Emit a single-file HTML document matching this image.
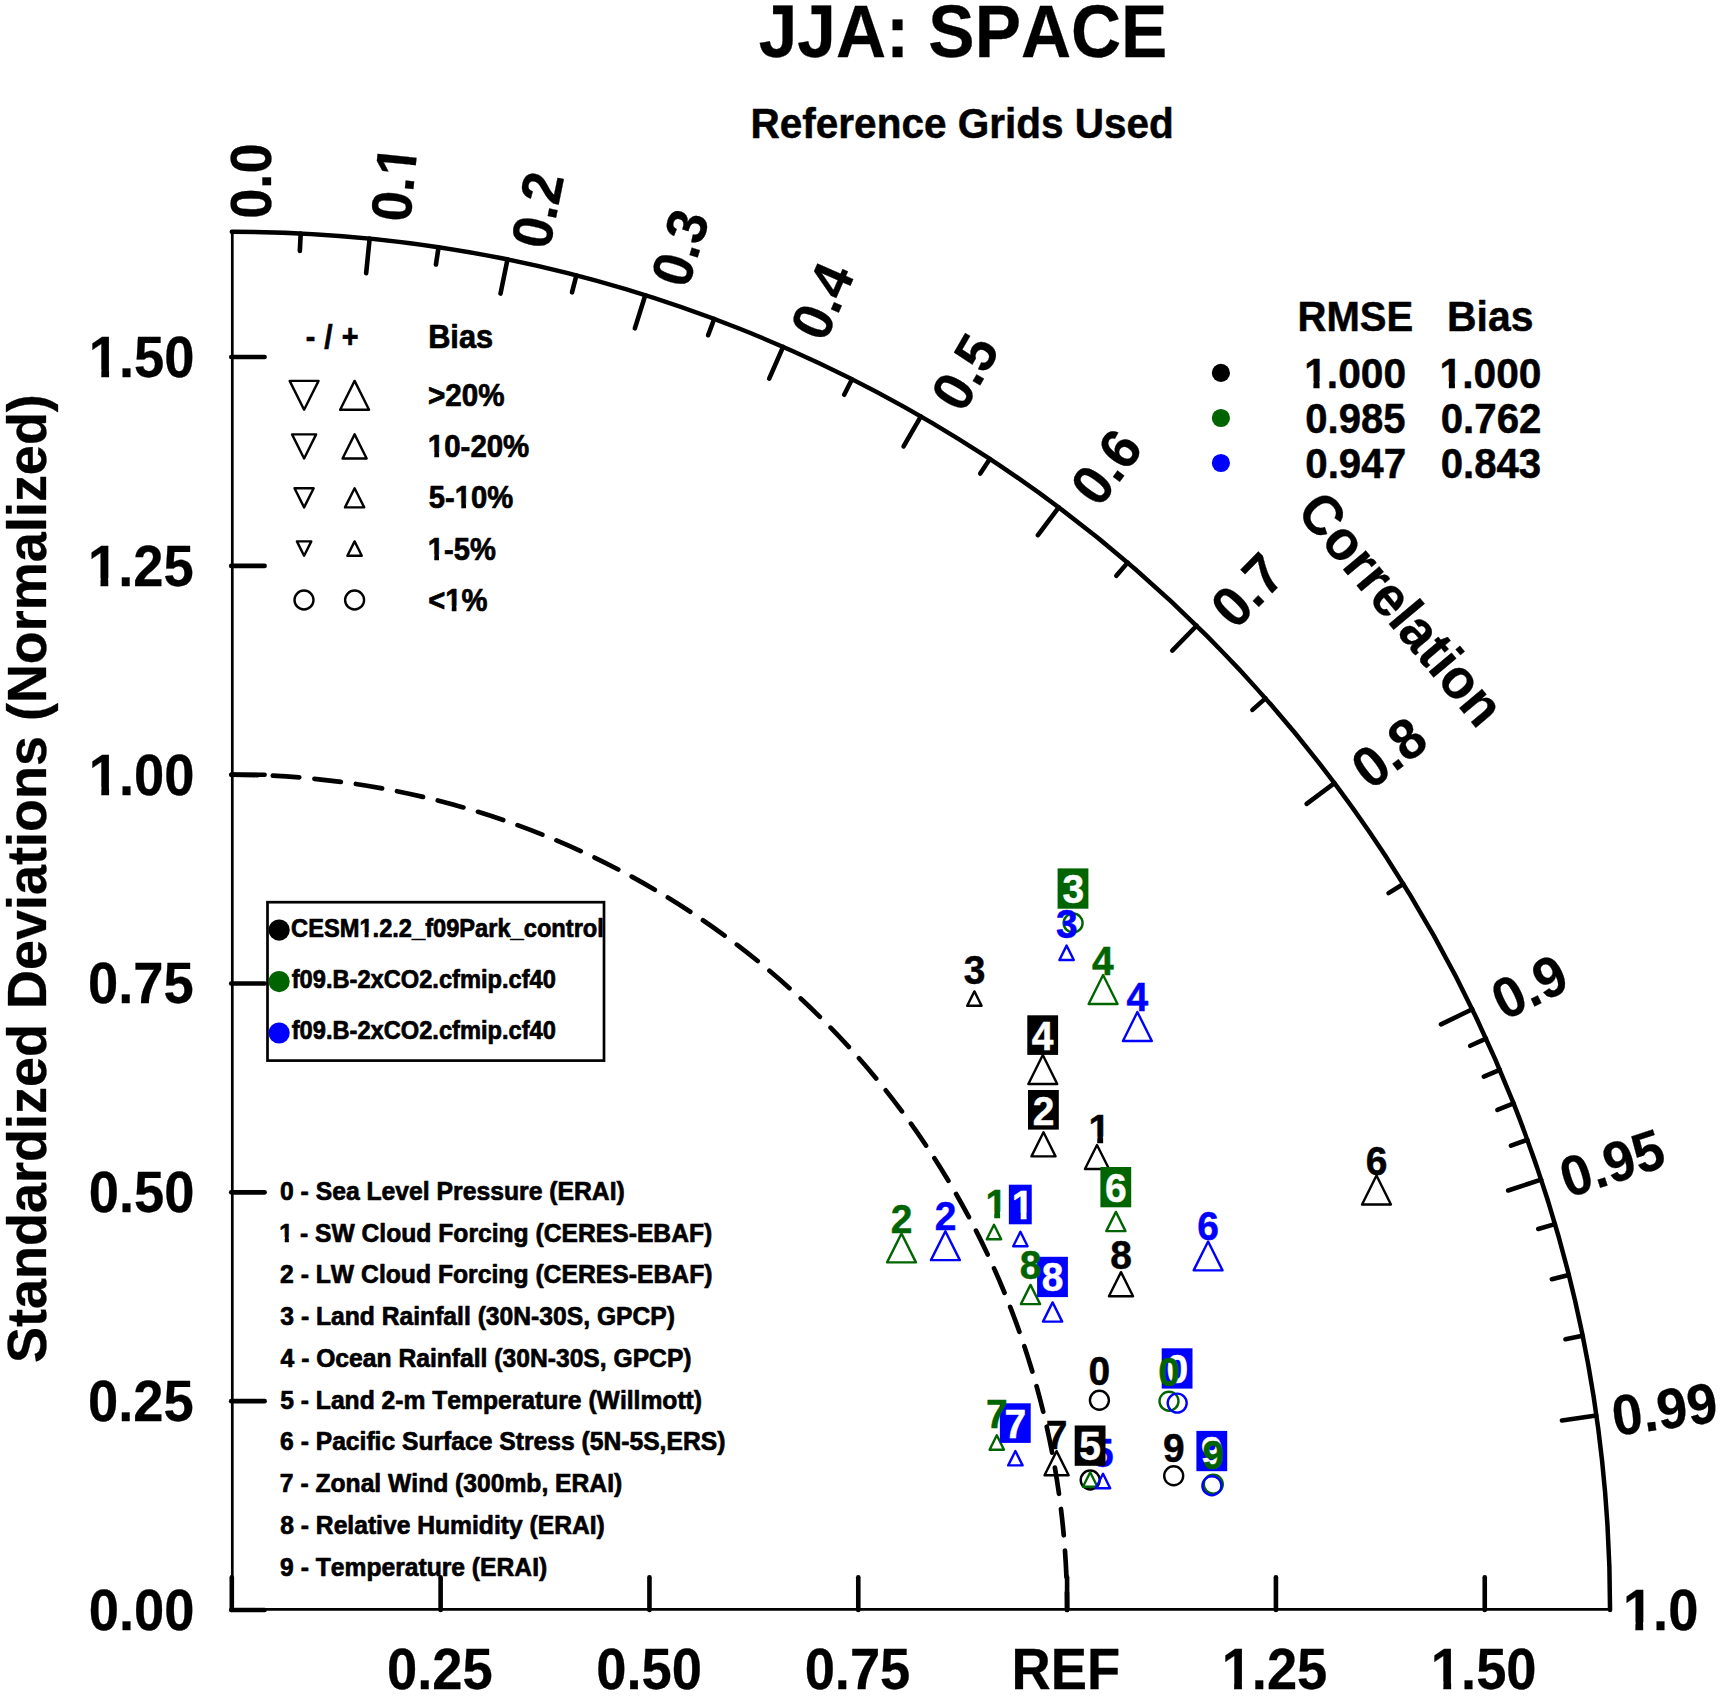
<!DOCTYPE html>
<html lang="en">
<head>
<meta charset="utf-8">
<title>JJA: SPACE - Taylor diagram</title>
<style>
html,body{margin:0;padding:0;background:#fff;}
body{width:1722px;height:1696px;overflow:hidden;}
svg{display:block;}
svg text{font-family:"Liberation Sans",Helvetica,Arial,sans-serif;font-weight:700;font-kerning:none;stroke-linejoin:round;}
</style>
</head>
<body>
<svg width="1722" height="1696" viewBox="0 0 1722 1696">
<defs>
<clipPath id="k1"><rect x="-20" y="-68.16" width="150.55" height="60.62"/><rect x="-20" y="-7.54" width="18.86" height="35.94"/><rect x="13.11" y="-7.54" width="8.09" height="35.94"/><rect x="32.66" y="-7.54" width="97.89" height="35.94"/><rect x="-20" y="2.75" width="150.55" height="25.65"/></clipPath>
<clipPath id="k2"><rect x="-20" y="-68.16" width="118.96" height="60.62"/><rect x="-20" y="-7.54" width="66.23" height="35.94"/><rect x="60.48" y="-7.54" width="8.09" height="35.94"/><rect x="80.03" y="-7.54" width="18.93" height="35.94"/><rect x="-20" y="2.75" width="118.96" height="25.65"/></clipPath>
<clipPath id="k3"><rect x="-20" y="-68.16" width="118.96" height="60.62"/><rect x="-20" y="-7.54" width="18.86" height="35.94"/><rect x="13.11" y="-7.54" width="8.09" height="35.94"/><rect x="32.66" y="-7.54" width="66.3" height="35.94"/><rect x="-20" y="2.75" width="118.96" height="25.65"/></clipPath>
<clipPath id="k4"><rect x="-20" y="-36.72" width="145.47" height="31.65"/><rect x="-20" y="-5.07" width="19.39" height="20.37"/><rect x="6.79" y="-5.07" width="4.9" height="20.37"/><rect x="17.59" y="-5.07" width="107.88" height="20.37"/><rect x="-20" y="2.95" width="145.47" height="12.35"/></clipPath>
<clipPath id="k5"><rect x="-20" y="-36.72" width="128.45" height="31.65"/><rect x="-20" y="-5.07" width="46.6" height="20.37"/><rect x="34" y="-5.07" width="4.9" height="20.37"/><rect x="44.8" y="-5.07" width="63.65" height="20.37"/><rect x="-20" y="2.95" width="128.45" height="12.35"/></clipPath>
<clipPath id="k6"><rect x="-20" y="-36.72" width="111.43" height="31.65"/><rect x="-20" y="-5.07" width="19.39" height="20.37"/><rect x="6.79" y="-5.07" width="4.9" height="20.37"/><rect x="17.59" y="-5.07" width="73.84" height="20.37"/><rect x="-20" y="2.95" width="111.43" height="12.35"/></clipPath>
<clipPath id="k7"><rect x="-20" y="-36.72" width="102.1" height="31.65"/><rect x="-20" y="-5.07" width="37.26" height="20.37"/><rect x="24.66" y="-5.07" width="4.9" height="20.37"/><rect x="35.46" y="-5.07" width="46.63" height="20.37"/><rect x="-20" y="2.95" width="102.1" height="12.35"/></clipPath>
<clipPath id="k8"><rect x="-20" y="-51.6" width="147.6" height="45.36"/><rect x="-20" y="-6.24" width="19.14" height="27.74"/><rect x="9.79" y="-6.24" width="6.4" height="27.74"/><rect x="24.72" y="-6.24" width="102.88" height="27.74"/><rect x="-20" y="2.85" width="147.6" height="18.65"/></clipPath>
<clipPath id="k9"><rect x="-20" y="-30" width="370.7" height="25.5"/><rect x="-20" y="-4.5" width="91.73" height="17"/><rect x="77.71" y="-4.5" width="4.13" height="17"/><rect x="86.6" y="-4.5" width="264.1" height="17"/><rect x="-20" y="2.95" width="370.7" height="9.55"/></clipPath>
<clipPath id="k10"><rect x="-20" y="-31.2" width="496.42" height="26.6"/><rect x="-20" y="-4.6" width="19.48" height="17.6"/><rect x="5.72" y="-4.6" width="4.27" height="17.6"/><rect x="14.95" y="-4.6" width="461.47" height="17.6"/><rect x="-20" y="2.95" width="496.42" height="10.05"/></clipPath>
<clipPath id="k11"><rect x="-20" y="-49.2" width="62.8" height="43.17"/><rect x="-20" y="-6.03" width="19.18" height="26.53"/><rect x="9.32" y="-6.03" width="6.13" height="26.53"/><rect x="23.57" y="-6.03" width="19.23" height="26.53"/><rect x="-20" y="2.85" width="62.8" height="17.65"/></clipPath>
</defs>
<rect x="0" y="0" width="1722" height="1696" fill="#ffffff"/>
<text transform="translate(758.71 57.1) scale(0.9252 1)" font-size="75" stroke="#000000" stroke-width="0.3">JJA: SPACE</text>
<text transform="translate(750.52 137.6) scale(0.9426 1)" font-size="43" stroke="#000000" stroke-width="0.5">Reference Grids Used</text>
<line x1="232.3" y1="231.76" x2="232.3" y2="1610" stroke="#000000" stroke-width="2.7" stroke-linecap="butt"/>
<line x1="231.8" y1="1609.4" x2="1610.04" y2="1609.4" stroke="#000000" stroke-width="2.7" stroke-linecap="butt"/>
<path d="M 231.8 231.76 A 1378.24 1378.24 0 0 1 1610.04 1610" fill="none" stroke="#000" stroke-width="4.5" stroke-linecap="round"/>
<path d="M 231.8 774.7 A 835.3 835.3 0 0 1 1067.1 1610" fill="none" stroke="#000" stroke-width="4.7" stroke-linecap="round" stroke-dasharray="26.5 15.27" stroke-dashoffset="0.7"/>
<line x1="231.2" y1="1610" x2="264.61" y2="1610" stroke="#000000" stroke-width="4.6" stroke-linecap="round"/>
<text transform="translate(88.81 1629.9) scale(0.9560 1)" font-size="56.8" stroke="#000000" stroke-width="0.3">0.00</text>
<line x1="231.2" y1="1401.17" x2="264.61" y2="1401.17" stroke="#000000" stroke-width="4.6" stroke-linecap="round"/>
<text transform="translate(87.99 1421.08) scale(0.9560 1)" font-size="56.8" stroke="#000000" stroke-width="0.3">0.25</text>
<line x1="231.2" y1="1192.35" x2="264.61" y2="1192.35" stroke="#000000" stroke-width="4.6" stroke-linecap="round"/>
<text transform="translate(88.81 1212.25) scale(0.9560 1)" font-size="56.8" stroke="#000000" stroke-width="0.3">0.50</text>
<line x1="231.2" y1="983.53" x2="264.61" y2="983.53" stroke="#000000" stroke-width="4.6" stroke-linecap="round"/>
<text transform="translate(87.99 1003.43) scale(0.9560 1)" font-size="56.8" stroke="#000000" stroke-width="0.3">0.75</text>
<line x1="231.2" y1="774.7" x2="264.61" y2="774.7" stroke="#000000" stroke-width="4.6" stroke-linecap="round"/>
<text transform="translate(88.81 794.6) scale(0.9560 1)" font-size="56.8" stroke="#000000" stroke-width="0.3" clip-path="url(#k1)">1.00</text>
<line x1="231.2" y1="565.88" x2="264.61" y2="565.88" stroke="#000000" stroke-width="4.6" stroke-linecap="round"/>
<text transform="translate(87.99 585.77) scale(0.9560 1)" font-size="56.8" stroke="#000000" stroke-width="0.3" clip-path="url(#k1)">1.25</text>
<line x1="231.2" y1="357.05" x2="264.61" y2="357.05" stroke="#000000" stroke-width="4.6" stroke-linecap="round"/>
<text transform="translate(88.81 376.95) scale(0.9560 1)" font-size="56.8" stroke="#000000" stroke-width="0.3" clip-path="url(#k1)">1.50</text>
<line x1="231.8" y1="1610" x2="231.8" y2="1577.19" stroke="#000000" stroke-width="4.6" stroke-linecap="round"/>
<line x1="440.62" y1="1610" x2="440.62" y2="1577.19" stroke="#000000" stroke-width="4.6" stroke-linecap="round"/>
<text transform="translate(387.01 1689) scale(0.9560 1)" font-size="56.8" stroke="#000000" stroke-width="0.3">0.25</text>
<line x1="649.45" y1="1610" x2="649.45" y2="1577.19" stroke="#000000" stroke-width="4.6" stroke-linecap="round"/>
<text transform="translate(596.24 1689) scale(0.9560 1)" font-size="56.8" stroke="#000000" stroke-width="0.3">0.50</text>
<line x1="858.27" y1="1610" x2="858.27" y2="1577.19" stroke="#000000" stroke-width="4.6" stroke-linecap="round"/>
<text transform="translate(804.66 1689) scale(0.9560 1)" font-size="56.8" stroke="#000000" stroke-width="0.3">0.75</text>
<line x1="1067.1" y1="1610" x2="1067.1" y2="1577.19" stroke="#000000" stroke-width="4.6" stroke-linecap="round"/>
<text transform="translate(1011.58 1689) scale(0.9560 1)" font-size="56.8" stroke="#000000" stroke-width="0.3">REF</text>
<line x1="1275.92" y1="1610" x2="1275.92" y2="1577.19" stroke="#000000" stroke-width="4.6" stroke-linecap="round"/>
<text transform="translate(1221.63 1689) scale(0.9560 1)" font-size="56.8" stroke="#000000" stroke-width="0.3" clip-path="url(#k1)">1.25</text>
<line x1="1484.75" y1="1610" x2="1484.75" y2="1577.19" stroke="#000000" stroke-width="4.6" stroke-linecap="round"/>
<text transform="translate(1430.86 1689) scale(0.9560 1)" font-size="56.8" stroke="#000000" stroke-width="0.3" clip-path="url(#k1)">1.50</text>
<text transform="translate(31.6 879.05) rotate(-90) translate(-484.02 14.42) scale(0.9641 1)" font-size="56" stroke="#000000" stroke-width="0.3">Standardized Deviations (Normalized)</text>
<line x1="369.62" y1="238.66" x2="366.15" y2="273.19" stroke="#000000" stroke-width="4.6" stroke-linecap="round"/>
<line x1="507.45" y1="259.6" x2="500.51" y2="293.6" stroke="#000000" stroke-width="4.6" stroke-linecap="round"/>
<line x1="645.27" y1="295.24" x2="634.86" y2="328.34" stroke="#000000" stroke-width="4.6" stroke-linecap="round"/>
<line x1="783.1" y1="346.82" x2="769.22" y2="378.62" stroke="#000000" stroke-width="4.6" stroke-linecap="round"/>
<line x1="920.92" y1="416.4" x2="903.57" y2="446.46" stroke="#000000" stroke-width="4.6" stroke-linecap="round"/>
<line x1="1058.75" y1="507.4" x2="1037.93" y2="535.16" stroke="#000000" stroke-width="4.6" stroke-linecap="round"/>
<line x1="1196.57" y1="625.74" x2="1172.28" y2="650.52" stroke="#000000" stroke-width="4.6" stroke-linecap="round"/>
<line x1="1334.4" y1="783.05" x2="1306.64" y2="803.87" stroke="#000000" stroke-width="4.6" stroke-linecap="round"/>
<line x1="1472.22" y1="1009.24" x2="1440.99" y2="1024.36" stroke="#000000" stroke-width="4.6" stroke-linecap="round"/>
<line x1="1541.13" y1="1179.64" x2="1508.17" y2="1190.48" stroke="#000000" stroke-width="4.6" stroke-linecap="round"/>
<line x1="1596.26" y1="1415.57" x2="1561.91" y2="1420.47" stroke="#000000" stroke-width="4.6" stroke-linecap="round"/>
<line x1="300.71" y1="233.48" x2="299.84" y2="250.86" stroke="#000000" stroke-width="4.6" stroke-linecap="round"/>
<line x1="438.54" y1="247.35" x2="435.93" y2="264.55" stroke="#000000" stroke-width="4.6" stroke-linecap="round"/>
<line x1="576.36" y1="275.52" x2="572.01" y2="292.37" stroke="#000000" stroke-width="4.6" stroke-linecap="round"/>
<line x1="714.19" y1="318.93" x2="708.1" y2="335.23" stroke="#000000" stroke-width="4.6" stroke-linecap="round"/>
<line x1="852.01" y1="379.19" x2="844.18" y2="394.73" stroke="#000000" stroke-width="4.6" stroke-linecap="round"/>
<line x1="989.83" y1="458.94" x2="980.26" y2="473.47" stroke="#000000" stroke-width="4.6" stroke-linecap="round"/>
<line x1="1127.66" y1="562.62" x2="1116.35" y2="575.85" stroke="#000000" stroke-width="4.6" stroke-linecap="round"/>
<line x1="1265.48" y1="698.38" x2="1252.43" y2="709.89" stroke="#000000" stroke-width="4.6" stroke-linecap="round"/>
<line x1="1403.31" y1="883.96" x2="1388.52" y2="893.13" stroke="#000000" stroke-width="4.6" stroke-linecap="round"/>
<line x1="1486" y1="1038.57" x2="1470.17" y2="1045.78" stroke="#000000" stroke-width="4.6" stroke-linecap="round"/>
<line x1="1499.79" y1="1069.84" x2="1483.78" y2="1076.66" stroke="#000000" stroke-width="4.6" stroke-linecap="round"/>
<line x1="1513.57" y1="1103.41" x2="1497.39" y2="1109.81" stroke="#000000" stroke-width="4.6" stroke-linecap="round"/>
<line x1="1527.35" y1="1139.78" x2="1510.99" y2="1145.71" stroke="#000000" stroke-width="4.6" stroke-linecap="round"/>
<line x1="1554.92" y1="1224.09" x2="1538.21" y2="1228.96" stroke="#000000" stroke-width="4.6" stroke-linecap="round"/>
<line x1="1568.7" y1="1274.94" x2="1551.82" y2="1279.17" stroke="#000000" stroke-width="4.6" stroke-linecap="round"/>
<line x1="1582.48" y1="1335.73" x2="1565.43" y2="1339.2" stroke="#000000" stroke-width="4.6" stroke-linecap="round"/>
<text transform="translate(251.5 181.1) rotate(-90) translate(-37.74 19.6) scale(0.9560 1)" font-size="56.8" stroke="#000000" stroke-width="0.3">0.0</text>
<text transform="translate(393.8 187.3) rotate(-84.26) translate(-33.8 19.6) scale(0.9560 1)" font-size="56.8" stroke="#000000" stroke-width="0.3" clip-path="url(#k2)">0.1</text>
<text transform="translate(537.5 209.9) rotate(-78.46) translate(-37.74 19.6) scale(0.9560 1)" font-size="56.8" stroke="#000000" stroke-width="0.3">0.2</text>
<text transform="translate(680.1 247.7) rotate(-72.54) translate(-37.87 19.6) scale(0.9560 1)" font-size="56.8" stroke="#000000" stroke-width="0.3">0.3</text>
<text transform="translate(822.6 300.3) rotate(-66.42) translate(-38.69 19.6) scale(0.9560 1)" font-size="56.8" stroke="#000000" stroke-width="0.3">0.4</text>
<text transform="translate(965.1 371.9) rotate(-60) translate(-38.01 19.6) scale(0.9560 1)" font-size="56.8" stroke="#000000" stroke-width="0.3">0.5</text>
<text transform="translate(1106.4 466.9) rotate(-53.13) translate(-37.87 19.6) scale(0.9560 1)" font-size="56.8" stroke="#000000" stroke-width="0.3">0.6</text>
<text transform="translate(1247.5 590.5) rotate(-45.57) translate(-37.6 19.6) scale(0.9560 1)" font-size="56.8" stroke="#000000" stroke-width="0.3">0.7</text>
<text transform="translate(1389.1 752.5) rotate(-36.87) translate(-38.01 19.6) scale(0.9560 1)" font-size="56.8" stroke="#000000" stroke-width="0.3">0.8</text>
<text transform="translate(1529.6 986.9) rotate(-25.84) translate(-37.87 19.6) scale(0.9560 1)" font-size="56.8" stroke="#000000" stroke-width="0.3">0.9</text>
<text transform="translate(1612.4 1163.1) rotate(-18.19) translate(-53.21 19.6) scale(0.9560 1)" font-size="56.8" stroke="#000000" stroke-width="0.3">0.95</text>
<text transform="translate(1664.7 1409.2) rotate(-8.11) translate(-52.94 19.6) scale(0.9560 1)" font-size="56.8" stroke="#000000" stroke-width="0.3">0.99</text>
<text transform="translate(1661.3 1610.2) rotate(0) translate(-38.42 19.6) scale(0.9560 1)" font-size="56.8" stroke="#000000" stroke-width="0.3" clip-path="url(#k3)">1.0</text>
<text transform="translate(1401.6 608) rotate(50) translate(-141.73 20.02) scale(0.9524 1)" font-size="56" stroke="#000000" stroke-width="0.3">Correlation</text>
<text transform="translate(305.7 348.3) scale(0.8675 1)" font-size="33" stroke="#000000" stroke-width="0.7">-</text>
<text transform="translate(324.15 348.3) scale(0.9091 1)" font-size="33" stroke="#000000" stroke-width="0.7">/</text>
<text transform="translate(341.8 348.3) scale(0.8701 1)" font-size="33" stroke="#000000" stroke-width="0.7">+</text>
<text transform="translate(428.15 348.2) scale(0.9325 1)" font-size="33" stroke="#000000" stroke-width="0.7">Bias</text>
<path d="M 304.1 409.8 L 318.55 380.9 L 289.65 380.9 Z" fill="none" stroke="#000000" stroke-width="2.4" stroke-linejoin="round"/>
<path d="M 354.6 380.9 L 369.05 409.8 L 340.15 409.8 Z" fill="none" stroke="#000000" stroke-width="2.4" stroke-linejoin="round"/>
<text transform="translate(427.97 406.05) scale(0.9674 1)" font-size="30.6" stroke="#000000" stroke-width="0.7">&gt;20%</text>
<path d="M 304.1 458.45 L 316.15 434.35 L 292.05 434.35 Z" fill="none" stroke="#000000" stroke-width="2.4" stroke-linejoin="round"/>
<path d="M 354.6 434.35 L 366.65 458.45 L 342.55 458.45 Z" fill="none" stroke="#000000" stroke-width="2.4" stroke-linejoin="round"/>
<text transform="translate(427.84 457.25) scale(0.9624 1)" font-size="30.6" stroke="#000000" stroke-width="0.7" clip-path="url(#k4)">10-20%</text>
<path d="M 304.1 507.4 L 313.7 488.2 L 294.5 488.2 Z" fill="none" stroke="#000000" stroke-width="2.4" stroke-linejoin="round"/>
<path d="M 354.6 488.2 L 364.2 507.4 L 345 507.4 Z" fill="none" stroke="#000000" stroke-width="2.4" stroke-linejoin="round"/>
<text transform="translate(428.87 508.45) scale(0.9556 1)" font-size="30.6" stroke="#000000" stroke-width="0.7" clip-path="url(#k5)">5-10%</text>
<path d="M 304.1 555.8 L 311.3 541.4 L 296.9 541.4 Z" fill="none" stroke="#000000" stroke-width="2.4" stroke-linejoin="round"/>
<path d="M 354.6 541.4 L 361.8 555.8 L 347.4 555.8 Z" fill="none" stroke="#000000" stroke-width="2.4" stroke-linejoin="round"/>
<text transform="translate(427.85 559.6) scale(0.9535 1)" font-size="30.6" stroke="#000000" stroke-width="0.7" clip-path="url(#k6)">1-5%</text>
<circle cx="304" cy="600" r="9.5" fill="none" stroke="#000000" stroke-width="2.4"/>
<circle cx="354.6" cy="600" r="9.5" fill="none" stroke="#000000" stroke-width="2.4"/>
<text transform="translate(428.18 610.8) scale(0.9563 1)" font-size="30.6" stroke="#000000" stroke-width="0.7" clip-path="url(#k7)">&lt;1%</text>
<text transform="translate(1297.55 331.1) scale(0.9319 1)" font-size="43" stroke="#000000" stroke-width="0.5">RMSE</text>
<text transform="translate(1447.09 331.1) scale(0.9511 1)" font-size="43" stroke="#000000" stroke-width="0.5">Bias</text>
<circle cx="1220.9" cy="372.9" r="9.1" fill="#000000"/>
<text transform="translate(1304.2 387.6) scale(0.9467 1)" font-size="43" stroke="#000000" stroke-width="0.5" clip-path="url(#k8)">1.000</text>
<text transform="translate(1439.6 387.6) scale(0.9467 1)" font-size="43" stroke="#000000" stroke-width="0.5" clip-path="url(#k8)">1.000</text>
<circle cx="1220.9" cy="418" r="9.1" fill="#006400"/>
<text transform="translate(1305.25 432.6) scale(0.9312 1)" font-size="43" stroke="#000000" stroke-width="0.5">0.985</text>
<text transform="translate(1440.64 432.6) scale(0.9370 1)" font-size="43" stroke="#000000" stroke-width="0.5">0.762</text>
<circle cx="1220.9" cy="463" r="9.1" fill="#0000ff"/>
<text transform="translate(1305.24 477.7) scale(0.9370 1)" font-size="43" stroke="#000000" stroke-width="0.5">0.947</text>
<text transform="translate(1440.64 477.7) scale(0.9350 1)" font-size="43" stroke="#000000" stroke-width="0.5">0.843</text>
<rect x="267.5" y="902.2" width="336.5" height="158.4" fill="#fff" stroke="#000" stroke-width="2.7"/>
<circle cx="279.15" cy="930.1" r="10.6" fill="#000000"/>
<text transform="translate(291.1 936.9) scale(0.9461 1)" font-size="25" stroke="#000000" stroke-width="0.7" clip-path="url(#k9)">CESM1.2.2_f09Park_control</text>
<circle cx="279.15" cy="981.6" r="10.6" fill="#006400"/>
<text transform="translate(291.7 988) scale(0.9465 1)" font-size="25" stroke="#000000" stroke-width="0.7">f09.B-2xCO2.cfmip.cf40</text>
<circle cx="279.15" cy="1033" r="10.6" fill="#0000ff"/>
<text transform="translate(291.7 1039.2) scale(0.9465 1)" font-size="25" stroke="#000000" stroke-width="0.7">f09.B-2xCO2.cfmip.cf40</text>
<text transform="translate(279.96 1199.9) scale(0.9510 1)" font-size="26" stroke="#000000" stroke-width="0.7">0 - Sea Level Pressure (ERAI)</text>
<text transform="translate(279.35 1241.64) scale(0.9492 1)" font-size="26" stroke="#000000" stroke-width="0.7" clip-path="url(#k10)">1 - SW Cloud Forcing (CERES-EBAF)</text>
<text transform="translate(280.08 1283.38) scale(0.9506 1)" font-size="26" stroke="#000000" stroke-width="0.7">2 - LW Cloud Forcing (CERES-EBAF)</text>
<text transform="translate(280.33 1325.12) scale(0.9493 1)" font-size="26" stroke="#000000" stroke-width="0.7">3 - Land Rainfall (30N-30S, GPCP)</text>
<text transform="translate(280.58 1366.86) scale(0.9485 1)" font-size="26" stroke="#000000" stroke-width="0.7">4 - Ocean Rainfall (30N-30S, GPCP)</text>
<text transform="translate(280.21 1408.6) scale(0.9485 1)" font-size="26" stroke="#000000" stroke-width="0.7">5 - Land 2-m Temperature (Willmott)</text>
<text transform="translate(280.09 1450.34) scale(0.9485 1)" font-size="26" stroke="#000000" stroke-width="0.7">6 - Pacific Surface Stress (5N-5S,ERS)</text>
<text transform="translate(279.84 1492.08) scale(0.9485 1)" font-size="26" stroke="#000000" stroke-width="0.7">7 - Zonal Wind (300mb, ERAI)</text>
<text transform="translate(280.21 1533.82) scale(0.9485 1)" font-size="26" stroke="#000000" stroke-width="0.7">8 - Relative Humidity (ERAI)</text>
<text transform="translate(280.09 1575.56) scale(0.9485 1)" font-size="26" stroke="#000000" stroke-width="0.7">9 - Temperature (ERAI)</text>
<circle cx="1099.4" cy="1400.3" r="9.5" fill="none" stroke="#000000" stroke-width="2.4"/>
<path d="M 1097 1144.95 L 1109.05 1169.05 L 1084.95 1169.05 Z" fill="none" stroke="#000000" stroke-width="2.4" stroke-linejoin="round"/>
<path d="M 1043.5 1132.25 L 1055.55 1156.35 L 1031.45 1156.35 Z" fill="none" stroke="#000000" stroke-width="2.4" stroke-linejoin="round"/>
<path d="M 974.4 991.4 L 981.6 1005.8 L 967.2 1005.8 Z" fill="none" stroke="#000000" stroke-width="2.4" stroke-linejoin="round"/>
<path d="M 1042.8 1055.05 L 1057.25 1083.95 L 1028.35 1083.95 Z" fill="none" stroke="#000000" stroke-width="2.4" stroke-linejoin="round"/>
<circle cx="1090.2" cy="1480" r="9.5" fill="none" stroke="#000000" stroke-width="2.4"/>
<path d="M 1376.5 1175.55 L 1390.95 1204.45 L 1362.05 1204.45 Z" fill="none" stroke="#000000" stroke-width="2.4" stroke-linejoin="round"/>
<path d="M 1056.6 1451.15 L 1068.65 1475.25 L 1044.55 1475.25 Z" fill="none" stroke="#000000" stroke-width="2.4" stroke-linejoin="round"/>
<path d="M 1121 1272.15 L 1133.05 1296.25 L 1108.95 1296.25 Z" fill="none" stroke="#000000" stroke-width="2.4" stroke-linejoin="round"/>
<circle cx="1173.7" cy="1475.8" r="9.5" fill="none" stroke="#000000" stroke-width="2.4"/>
<circle cx="1169" cy="1401.2" r="9.5" fill="none" stroke="#006400" stroke-width="2.4"/>
<path d="M 994 1224.8 L 1001.2 1239.2 L 986.8 1239.2 Z" fill="none" stroke="#006400" stroke-width="2.4" stroke-linejoin="round"/>
<path d="M 901.5 1233.45 L 915.95 1262.35 L 887.05 1262.35 Z" fill="none" stroke="#006400" stroke-width="2.4" stroke-linejoin="round"/>
<circle cx="1073.1" cy="923" r="9.5" fill="none" stroke="#006400" stroke-width="2.4"/>
<path d="M 1103.1 975.05 L 1117.55 1003.95 L 1088.65 1003.95 Z" fill="none" stroke="#006400" stroke-width="2.4" stroke-linejoin="round"/>
<path d="M 1090.2 1472.3 L 1097.4 1486.7 L 1083 1486.7 Z" fill="none" stroke="#006400" stroke-width="2.4" stroke-linejoin="round"/>
<path d="M 1115.9 1211.9 L 1125.5 1231.1 L 1106.3 1231.1 Z" fill="none" stroke="#006400" stroke-width="2.4" stroke-linejoin="round"/>
<path d="M 996.8 1435.3 L 1004 1449.7 L 989.6 1449.7 Z" fill="none" stroke="#006400" stroke-width="2.4" stroke-linejoin="round"/>
<path d="M 1030.5 1284.9 L 1040.1 1304.1 L 1020.9 1304.1 Z" fill="none" stroke="#006400" stroke-width="2.4" stroke-linejoin="round"/>
<circle cx="1213.3" cy="1484.2" r="9.5" fill="none" stroke="#006400" stroke-width="2.4"/>
<circle cx="1177.2" cy="1403.1" r="9.5" fill="none" stroke="#0000ff" stroke-width="2.4"/>
<path d="M 1020.4 1231.8 L 1027.6 1246.2 L 1013.2 1246.2 Z" fill="none" stroke="#0000ff" stroke-width="2.4" stroke-linejoin="round"/>
<path d="M 945.4 1231.25 L 959.85 1260.15 L 930.95 1260.15 Z" fill="none" stroke="#0000ff" stroke-width="2.4" stroke-linejoin="round"/>
<path d="M 1066.6 945.6 L 1073.8 960 L 1059.4 960 Z" fill="none" stroke="#0000ff" stroke-width="2.4" stroke-linejoin="round"/>
<path d="M 1137.4 1012.05 L 1151.85 1040.95 L 1122.95 1040.95 Z" fill="none" stroke="#0000ff" stroke-width="2.4" stroke-linejoin="round"/>
<path d="M 1103 1473.8 L 1110.2 1488.2 L 1095.8 1488.2 Z" fill="none" stroke="#0000ff" stroke-width="2.4" stroke-linejoin="round"/>
<path d="M 1208.1 1241.45 L 1222.55 1270.35 L 1193.65 1270.35 Z" fill="none" stroke="#0000ff" stroke-width="2.4" stroke-linejoin="round"/>
<path d="M 1015.4 1451 L 1022.6 1465.4 L 1008.2 1465.4 Z" fill="none" stroke="#0000ff" stroke-width="2.4" stroke-linejoin="round"/>
<path d="M 1052.6 1302.4 L 1062.2 1321.6 L 1043 1321.6 Z" fill="none" stroke="#0000ff" stroke-width="2.4" stroke-linejoin="round"/>
<circle cx="1211.9" cy="1485.7" r="9.5" fill="none" stroke="#0000ff" stroke-width="2.4"/>
<rect x="1161.7" y="1348.3" width="30.8" height="40.3" fill="#0000ff"/>
<text transform="translate(1166.39 1382.85) scale(0.9500 1)" font-size="41" fill="#ffffff" stroke="#ffffff" stroke-width="0.5">0</text>
<rect x="1008.85" y="1184.7" width="22.9" height="39.6" fill="#0000ff"/>
<text transform="translate(1011.85 1219.25) scale(0.9500 1)" font-size="41" fill="#ffffff" stroke="#ffffff" stroke-width="0.5" clip-path="url(#k11)">1</text>
<text transform="translate(934.69 1230.25) scale(0.9500 1)" font-size="41" fill="#0000ff" stroke="#0000ff" stroke-width="0.5">2</text>
<text transform="translate(1055.99 938.25) scale(0.9500 1)" font-size="41" fill="#0000ff" stroke="#0000ff" stroke-width="0.5">3</text>
<text transform="translate(1126.4 1011.05) scale(0.9500 1)" font-size="41" fill="#0000ff" stroke="#0000ff" stroke-width="0.5">4</text>
<text transform="translate(1092.09 1466.55) scale(0.9500 1)" font-size="41" fill="#0000ff" stroke="#0000ff" stroke-width="0.5">5</text>
<text transform="translate(1197.29 1240.15) scale(0.9500 1)" font-size="41" fill="#0000ff" stroke="#0000ff" stroke-width="0.5">6</text>
<rect x="999.9" y="1403.3" width="30.8" height="39.6" fill="#0000ff"/>
<text transform="translate(1004.59 1437.85) scale(0.9500 1)" font-size="41" fill="#ffffff" stroke="#ffffff" stroke-width="0.5">7</text>
<rect x="1037.1" y="1256.8" width="30.8" height="40.3" fill="#0000ff"/>
<text transform="translate(1041.79 1291.35) scale(0.9500 1)" font-size="41" fill="#ffffff" stroke="#ffffff" stroke-width="0.5">8</text>
<rect x="1196.4" y="1430.9" width="30.8" height="40.3" fill="#0000ff"/>
<text transform="translate(1201.09 1465.45) scale(0.9500 1)" font-size="41" fill="#ffffff" stroke="#ffffff" stroke-width="0.5">9</text>
<text transform="translate(1158.19 1385.85) scale(0.9500 1)" font-size="41" fill="#006400" stroke="#006400" stroke-width="0.5">0</text>
<text transform="translate(985.45 1217.85) scale(0.9500 1)" font-size="41" fill="#006400" stroke="#006400" stroke-width="0.5" clip-path="url(#k11)">1</text>
<text transform="translate(890.79 1233.35) scale(0.9500 1)" font-size="41" fill="#006400" stroke="#006400" stroke-width="0.5">2</text>
<rect x="1057.6" y="868.4" width="30.8" height="40.3" fill="#006400"/>
<text transform="translate(1062.49 902.95) scale(0.9500 1)" font-size="41" fill="#ffffff" stroke="#ffffff" stroke-width="0.5">3</text>
<text transform="translate(1092.1 975.25) scale(0.9500 1)" font-size="41" fill="#006400" stroke="#006400" stroke-width="0.5">4</text>
<text transform="translate(1079.29 1465.05) scale(0.9500 1)" font-size="41" fill="#006400" stroke="#006400" stroke-width="0.5">5</text>
<rect x="1100.4" y="1167" width="30.8" height="40.3" fill="#006400"/>
<text transform="translate(1105.09 1201.55) scale(0.9500 1)" font-size="41" fill="#ffffff" stroke="#ffffff" stroke-width="0.5">6</text>
<text transform="translate(985.99 1428.05) scale(0.9500 1)" font-size="41" fill="#006400" stroke="#006400" stroke-width="0.5">7</text>
<text transform="translate(1019.69 1279.45) scale(0.9500 1)" font-size="41" fill="#006400" stroke="#006400" stroke-width="0.5">8</text>
<text transform="translate(1202.49 1469.35) scale(0.9500 1)" font-size="41" fill="#006400" stroke="#006400" stroke-width="0.5">9</text>
<text transform="translate(1088.59 1384.65) scale(0.9500 1)" font-size="41" stroke="#000000" stroke-width="0.5">0</text>
<text transform="translate(1088.45 1142.55) scale(0.9500 1)" font-size="41" stroke="#000000" stroke-width="0.5" clip-path="url(#k11)">1</text>
<rect x="1028" y="1090" width="30.8" height="39.6" fill="#000000"/>
<text transform="translate(1032.79 1124.55) scale(0.9500 1)" font-size="41" fill="#ffffff" stroke="#ffffff" stroke-width="0.5">2</text>
<text transform="translate(963.79 984.25) scale(0.9500 1)" font-size="41" stroke="#000000" stroke-width="0.5">3</text>
<rect x="1027.3" y="1015.3" width="30.8" height="39.6" fill="#000000"/>
<text transform="translate(1031.8 1049.85) scale(0.9500 1)" font-size="41" fill="#ffffff" stroke="#ffffff" stroke-width="0.5">4</text>
<rect x="1074.7" y="1425.5" width="30.8" height="40.3" fill="#000000"/>
<text transform="translate(1079.29 1460.05) scale(0.9500 1)" font-size="41" fill="#ffffff" stroke="#ffffff" stroke-width="0.5">5</text>
<text transform="translate(1365.69 1175.05) scale(0.9500 1)" font-size="41" stroke="#000000" stroke-width="0.5">6</text>
<text transform="translate(1045.79 1448.85) scale(0.9500 1)" font-size="41" stroke="#000000" stroke-width="0.5">7</text>
<text transform="translate(1110.19 1269.35) scale(0.9500 1)" font-size="41" stroke="#000000" stroke-width="0.5">8</text>
<text transform="translate(1162.89 1461.55) scale(0.9500 1)" font-size="41" stroke="#000000" stroke-width="0.5">9</text>
</svg>
</body>
</html>
